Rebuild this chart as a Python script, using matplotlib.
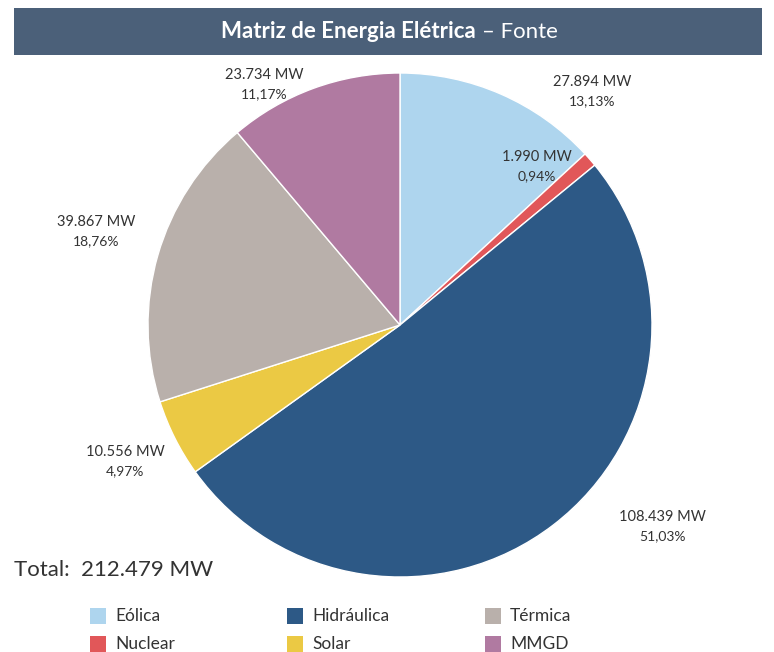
import matplotlib
matplotlib.use("Agg")
import matplotlib.pyplot as plt
from matplotlib.patches import Rectangle

categories = ["Eólica", "Nuclear", "Hidráulica", "Solar", "Térmica", "MMGD"]
values_mw = [27894, 1990, 108439, 10556, 39867, 23734]
value_labels = ["27.894 MW", "1.990 MW", "108.439 MW", "10.556 MW", "39.867 MW", "23.734 MW"]
pct_labels = ["13,13%", "0,94%", "51,03%", "4,97%", "18,76%", "11,17%"]
total_label = "212.479 MW"
legend_order = ["Eólica", "Hidráulica", "Térmica", "Nuclear", "Solar", "MMGD"]

colors = {
    "Eólica": "#aed5ee",
    "Nuclear": "#e15759",
    "Hidráulica": "#2d5986",
    "Solar": "#ebc944",
    "Térmica": "#b9b0ab",
    "MMGD": "#b07aa1",
}

W, H = 774, 652
plt.rcParams['font.family'] = ['Lato', 'DejaVu Sans']
fig = plt.figure(figsize=(W / 100, H / 100), dpi=100)

def fx(px):
    return px / W

def fy(py):
    return 1 - py / H

# title bar
fig.patches.append(Rectangle((fx(14), fy(55)), fx(762) - fx(14), fy(8) - fy(55),
                             transform=fig.transFigure, facecolor="#4b6079",
                             edgecolor="none", zorder=0))
t1 = fig.text(fx(221), fy(32), "Matriz de Energia Elétrica", color="white",
              fontsize=16, fontweight="bold", va="center", ha="left")
fig.canvas.draw()
bb = t1.get_window_extent()
fig.text(bb.x1 / W + fx(6), fy(32), "– Fonte", color="white", fontsize=16,
         va="center", ha="left")

# pie
cx, cy, r = 400, 325, 252
ax = fig.add_axes([fx(cx - r), fy(cy + r), 2 * r / W, 2 * r / H])
ax.pie(values_mw, colors=[colors[c] for c in categories], startangle=90,
       counterclock=False, wedgeprops=dict(edgecolor="white", linewidth=1))
ax.set_xlim(-1, 1)
ax.set_ylim(-1, 1)
ax.axis("off")

# labels (pixel anchors for each label)
label_pos = [(592, 82), (537, 157), (662, 517), (125, 452), (96, 222), (264, 75)]
for (px, py), vl, pl in zip(label_pos, value_labels, pct_labels):
    fig.text(fx(px), fy(py), vl, ha="center", va="center", fontsize=10.5, color="#333333")
    fig.text(fx(px), fy(py + 19), pl, ha="center", va="center", fontsize=10, color="#333333")

fig.text(fx(14), fy(570), "Total:  " + total_label, ha="left", va="center",
         fontsize=16, color="#333333")

# legend
cols_x = [90, 287, 485]
rows_y = [616, 644]
for i, name in enumerate(legend_order):
    x = cols_x[i % 3]
    y = rows_y[i // 3]
    fig.patches.append(Rectangle((fx(x), fy(y + 8)), fx(16), 16 / H,
                                 transform=fig.transFigure,
                                 facecolor=colors[name], edgecolor="none"))
    fig.text(fx(x + 25), fy(y), name, ha="left", va="center", fontsize=12.5,
             color="#333333")

fig.savefig("out.png", dpi=100)
